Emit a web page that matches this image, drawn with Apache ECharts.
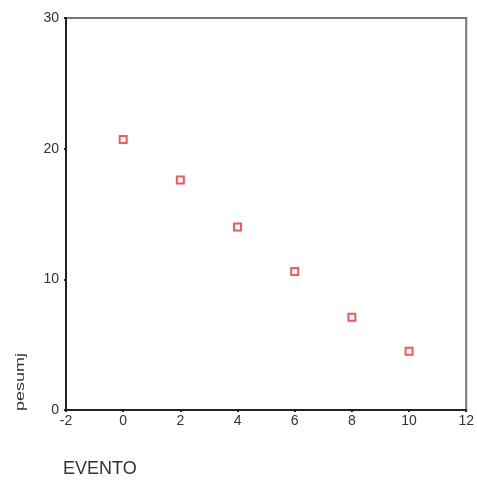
<!DOCTYPE html>
<html>
<head>
<meta charset="utf-8">
<script src="https://cdn.jsdelivr.net/npm/echarts@6/dist/echarts.min.js"></script>
<style>
  html, body { margin: 0; padding: 0; background: #fff; }
  #chart { width: 477px; height: 483px; }
</style>
</head>
<body>
<div id="chart"></div>
<script>
// datos
var evento = [0, 2, 4, 6, 8, 10];
var pesumj = [20.7, 17.6, 14.0, 10.6, 7.1, 4.5];
var xTicks = [-2, 0, 2, 4, 6, 8, 10, 12];
var yTicks = [0, 10, 20, 30];

var points = evento.map(function (x, i) { return [x, pesumj[i]]; });

var chart = echarts.init(document.getElementById('chart'));
chart.setOption({
  animation: false,
  grid: {
    left: 66,
    right: 8,
    top: 18,
    bottom: 73,
    show: true,
    borderColor: '#777',
    borderWidth: 2
  },
  xAxis: {
    type: 'value',
    min: xTicks[0],
    max: xTicks[xTicks.length - 1],
    interval: 2,
    splitLine: { show: false },
    axisLine: { onZero: false, lineStyle: { color: '#222', width: 2 } },
    axisTick: { show: true, length: 2, lineStyle: { color: '#222', width: 2 } },
    axisLabel: { color: '#333', fontSize: 14, fontFamily: 'Liberation Sans', margin: 4 }
  },
  yAxis: {
    type: 'value',
    min: yTicks[0],
    max: yTicks[yTicks.length - 1],
    interval: 10,
    splitLine: { show: false },
    axisLine: { onZero: false, lineStyle: { color: '#222', width: 2 } },
    axisTick: { show: true, length: 2, lineStyle: { color: '#222', width: 2 } },
    axisLabel: { color: '#333', fontSize: 14, fontFamily: 'Liberation Sans', margin: 7 }
  },
  graphic: [
    {
      type: 'text',
      left: 63,
      top: 460,
      style: { text: 'EVENTO', fill: '#333', font: '18px "Liberation Sans"' }
    },
    {
      type: 'text',
      x: 14,
      y: 411,
      rotation: Math.PI / 2,
      scaleY: 0.75,
      style: { text: 'pesumj', fill: '#333', font: '18px "Liberation Sans"' }
    }
  ],
  series: [{
    type: 'scatter',
    data: points,
    symbol: 'rect',
    symbolSize: 7,
    itemStyle: { color: '#fff', borderColor: '#ff2a2a', borderWidth: 2 }
  }]
});
</script>
</body>
</html>
